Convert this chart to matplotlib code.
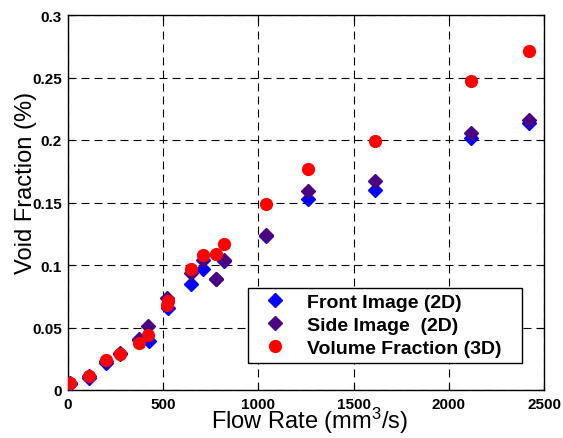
import matplotlib
matplotlib.use("Agg")
import matplotlib.pyplot as plt

flow_front = [10, 110, 198, 274, 374, 428, 523, 647, 709, 777, 818, 1042, 1263, 1611, 2116, 2421]
front = [0.005, 0.010, 0.022, 0.029, 0.041, 0.039, 0.066, 0.085, 0.097, 0.089, 0.103, 0.123, 0.153, 0.160, 0.202, 0.214]

flow_side = [10, 110, 198, 274, 374, 419, 519, 647, 709, 777, 818, 1042, 1263, 1611, 2116, 2421]
side = [0.006, 0.011, 0.023, 0.030, 0.040, 0.051, 0.074, 0.094, 0.104, 0.089, 0.104, 0.124, 0.159, 0.167, 0.206, 0.216]

flow_vol = [10, 110, 198, 274, 374, 419, 519, 525, 647, 709, 777, 818, 1042, 1263, 1611, 2116, 2421]
vol = [0.006, 0.011, 0.024, 0.029, 0.038, 0.044, 0.068, 0.071, 0.097, 0.108, 0.109, 0.117, 0.149, 0.177, 0.199, 0.247, 0.271]

xticks = [0, 500, 1000, 1500, 2000, 2500]
yticks = [0, 0.05, 0.1, 0.15, 0.2, 0.25, 0.3]
ytick_labels = ["0", "0.05", "0.1", "0.15", "0.2", "0.25", "0.3"]

plt.rcParams['font.family'] = ['Liberation Sans', 'DejaVu Sans']
plt.rcParams['mathtext.fontset'] = 'custom'
plt.rcParams['mathtext.rm'] = 'Liberation Sans'
plt.rcParams['mathtext.it'] = 'Liberation Sans'
plt.rcParams['mathtext.bf'] = 'Liberation Sans:bold'

fig = plt.figure(figsize=(5.63, 4.39), dpi=100)
ax = fig.add_axes([68/563, 48/439, 476/563, 375/439])

ax.plot(flow_front, front, linestyle='none', marker='D', markersize=7.5,
        color='#0000FF', markeredgecolor='#0000FF', label='Front Image (2D)', zorder=3)
ax.plot(flow_side, side, linestyle='none', marker='D', markersize=7.5,
        color='#4B0082', markeredgecolor='#4B0082', label='Side Image  (2D)', zorder=4)
ax.plot(flow_vol, vol, linestyle='none', marker='o', markersize=8.5,
        color='#FF0000', markeredgecolor='#FF0000', label='Volume Fraction (3D)', zorder=5)

ax.set_xlim(0, 2500)
ax.set_ylim(0, 0.3)
ax.set_xticks(xticks)
ax.set_xticklabels([str(t) for t in xticks], fontweight='bold', fontsize=11)
ax.set_yticks(yticks)
ax.set_yticklabels(ytick_labels, fontweight='bold', fontsize=11)
ax.tick_params(direction='in', length=4, width=0.8, colors='black')
ax.tick_params(axis='x', pad=5.0)
ax.tick_params(axis='y', pad=4.5)
ax.tick_params(top=True, right=True)
ax.grid(True, color='black', linestyle=(0, (7.2, 4.5)), linewidth=0.8)
for s in ax.spines.values():
    s.set_linewidth(1.0)

ax.set_xlabel('Flow Rate (mm$^3$/s)', fontsize=17)
ax.xaxis.label.set_va('baseline')
ax.xaxis.set_label_coords((310 - 68) / 476, (391 - 429) / 375)
ax.set_ylabel('Void Fraction (%)', fontsize=17)
ax.yaxis.set_label_coords((37 - 68) / 476, (391 - 183) / 375)

leg = ax.legend(loc='lower left', bbox_to_anchor=(0.378, 0.072, 0.576, 0.2),
                mode='expand', prop={'weight': 'bold', 'size': 14},
                frameon=True, fancybox=False, edgecolor='black', framealpha=1,
                handletextpad=0.56, borderaxespad=0, labelspacing=0.28,
                borderpad=0.3, handlelength=2.18, numpoints=1)
leg.get_frame().set_linewidth(1.0)

fig.savefig('out.png', dpi=100)
